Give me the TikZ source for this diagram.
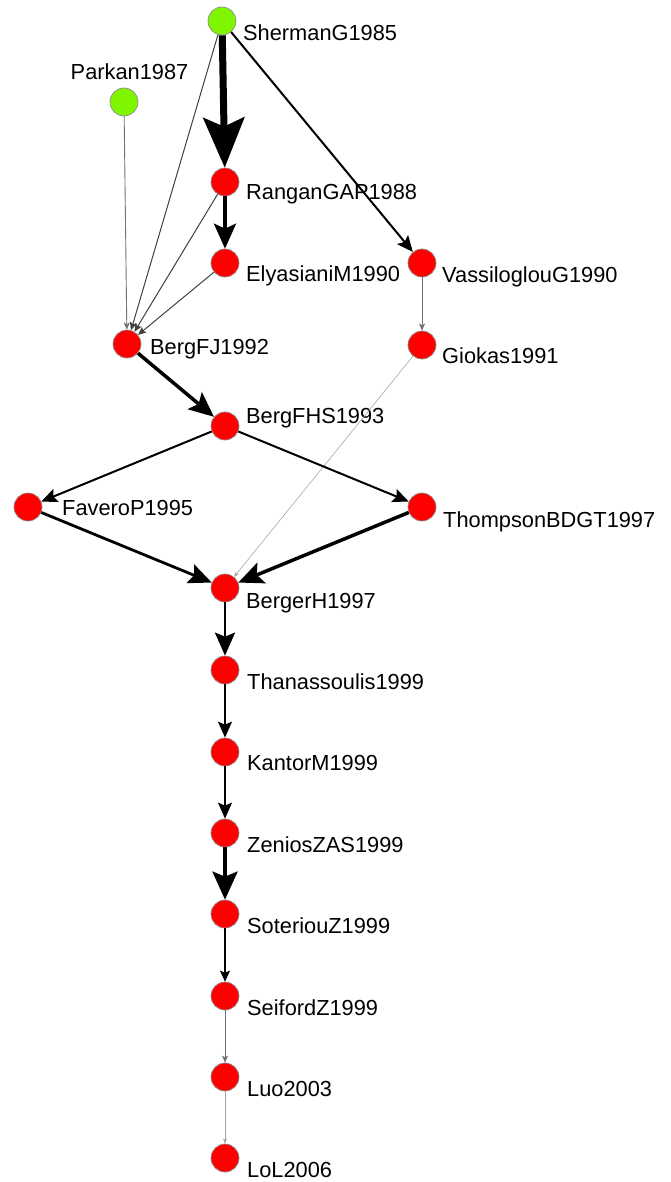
\documentclass[tikz,border=0pt]{standalone}
\usepackage{fontspec}
\setmainfont{Liberation Sans}
\usetikzlibrary{arrows.meta}
\begin{document}
\begin{tikzpicture}[x=1pt,y=-1pt,
  paper/.style={circle,minimum size=28pt,inner sep=0pt,draw=black!45,line width=0.7pt,fill=red},
  seed/.style={paper,fill={rgb,255:red,128;green,245;blue,0}},
  lbl/.style={inner sep=0pt,font=\fontsize{21.8}{26}\selectfont},
  huge/.style={line width=7pt,-{Stealth[length=50pt,width=41pt,inset=9pt]}},
  bold/.style={line width=4pt,-{Stealth[length=28pt,width=25pt,inset=5pt]}},
  heavy/.style={line width=3.5pt,-{Stealth[length=25pt,width=22pt,inset=5pt]}},
  strong/.style={line width=2.8pt,-{Stealth[length=23pt,width=20pt,inset=4pt]}},
  medium/.style={line width=2pt,-{Stealth[length=16pt,width=14pt,inset=3pt]}},
  light/.style={line width=1.3pt,-{Stealth[length=11pt,width=10pt,inset=2pt]}},
  thin/.style={line width=1pt,black!75,-{Stealth[length=8pt,width=7pt,inset=1.5pt]}},
  faint/.style={line width=0.9pt,black!55,-{Stealth[length=7pt,width=6pt,inset=1.5pt]}},
  hair/.style={line width=0.6pt,black!35,-{Stealth[length=5pt,width=4pt,inset=1pt]}}]
\useasboundingbox (0,0) rectangle (671,1182);

% papers
\node[seed]  (sherman) at (222,21) {};
\node[seed]  (parkan)  at (124,102) {};
\node[paper] (rangan)  at (225,182) {};
\node[paper] (elyas)   at (225,263) {};
\node[paper] (vassil)  at (422,263) {};
\node[paper] (bergfj)  at (127,344) {};
\node[paper] (giokas)  at (422,345) {};
\node[paper] (bergfhs) at (225,426) {};
\node[paper] (favero)  at (28,507) {};
\node[paper] (thomp)   at (422,507) {};
\node[paper] (berger)  at (225,588) {};
\node[paper] (thanas)  at (225,670) {};
\node[paper] (kantor)  at (225,752) {};
\node[paper] (zenios)  at (225,833) {};
\node[paper] (soter)   at (225,914) {};
\node[paper] (seiford) at (225,996) {};
\node[paper] (luo)     at (225,1077) {};
\node[paper] (lol)     at (225,1158) {};

% labels
\node[lbl,anchor=base west] (tsherman) at (243,41)  {ShermanG1985};
\node[lbl,anchor=base]      (tparkan)  at (129.5,80) {Parkan1987};
\node[lbl,anchor=base west] (trangan)  at (246,200) {RanganGAP1988};
\node[lbl,anchor=base west] (telyas)   at (246,281) {ElyasianiM1990};
\node[lbl,anchor=base west] (tvassil)  at (442,282) {VassiloglouG1990};
\node[lbl,anchor=base west] (tbergfj)  at (150,354) {BergFJ1992};
\node[lbl,anchor=base west] (tgiokas)  at (442,363) {Giokas1991};
\node[lbl,anchor=base west] (tbergfhs) at (246,423) {BergFHS1993};
\node[lbl,anchor=base west] (tfavero)  at (62,515)  {FaveroP1995};
\node[lbl,anchor=base west] (tthomp)   at (443,527) {ThompsonBDGT1997};
\node[lbl,anchor=base west] (tberger)  at (246,608) {BergerH1997};
\node[lbl,anchor=base west] (tthanas)  at (247,689) {Thanassoulis1999};
\node[lbl,anchor=base west] (tkantor)  at (247,770) {KantorM1999};
\node[lbl,anchor=base west] (tzenios)  at (247,852) {ZeniosZAS1999};
\node[lbl,anchor=base west] (tsoter)   at (247,933) {SoteriouZ1999};
\node[lbl,anchor=base west] (tseiford) at (247,1015) {SeifordZ1999};
\node[lbl,anchor=base west] (tluo)     at (247,1096) {Luo2003};
\node[lbl,anchor=base west] (tlol)     at (247,1177) {LoL2006};

% citations
\draw[huge]   (sherman) -- (rangan);
\draw[thin]   (sherman) -- (bergfj);
\draw[medium] (sherman) -- (vassil);
\draw[faint]  (parkan)  -- (bergfj);
\draw[heavy]  (rangan)  -- (elyas);
\draw[thin]   (rangan)  -- (bergfj);
\draw[thin]   (elyas)   -- (bergfj);
\draw[faint]  (vassil)  -- (giokas);
\draw[hair]   (giokas)  -- (berger);
\draw[heavy]  (bergfj)  -- (bergfhs);
\draw[medium] (bergfhs) -- (favero);
\draw[medium] (bergfhs) -- (thomp);
\draw[strong] (favero)  -- (berger);
\draw[heavy]  (thomp)   -- (berger);
\draw[strong] (berger)  -- (thanas);
\draw[medium] (thanas)  -- (kantor);
\draw[medium] (kantor)  -- (zenios);
\draw[bold]   (zenios)  -- (soter);
\draw[light]  (soter)   -- (seiford);
\draw[faint]  (seiford) -- (luo);
\draw[hair]   (luo)     -- (lol);
\end{tikzpicture}
\end{document}
